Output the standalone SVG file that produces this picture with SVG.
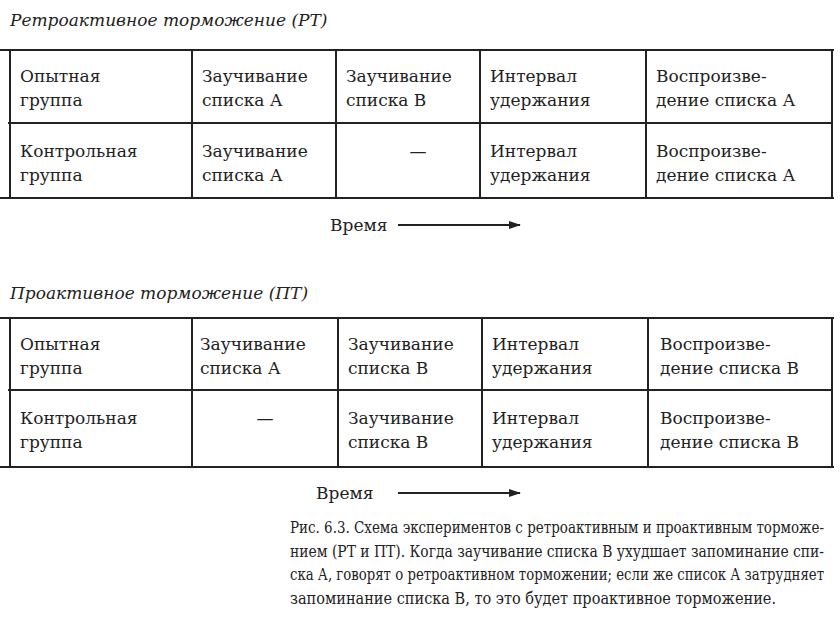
<svg xmlns="http://www.w3.org/2000/svg" width="840" height="626" viewBox="0 0 840 626">
<style>
text{font-family:"DejaVu Serif","Liberation Serif",serif;font-size:17px;fill:#222}
.t{font-style:italic}
.c{font-size:16px}
line{stroke:#222;stroke-width:2}
</style>
<defs><marker id="a" markerWidth="12" markerHeight="8" refX="11" refY="4" orient="auto" markerUnits="userSpaceOnUse"><path d="M0,0L12,4L0,8z" fill="#222"/></marker></defs>
<rect width="840" height="626" fill="#fff"/>
<text class="t" x="10" y="26">Ретроактивное торможение (РТ)</text>
<g id="table1">
<line x1="0" y1="50" x2="834" y2="50"/><line x1="8" y1="123" x2="832" y2="123"/><line x1="0" y1="198" x2="834" y2="198"/>
<line x1="10" y1="50" x2="10" y2="198"/><line x1="832" y1="50" x2="832" y2="198"/>
<line x1="192" y1="50" x2="192" y2="198"/><line x1="336" y1="50" x2="336" y2="198"/><line x1="480" y1="50" x2="480" y2="198"/><line x1="646" y1="50" x2="646" y2="198"/>
<text x="20" y="82">Опытная</text><text x="20" y="106">группа</text>
<text x="202" y="82">Заучивание</text><text x="202" y="106">списка А</text>
<text x="346" y="82">Заучивание</text><text x="346" y="106">списка В</text>
<text x="490" y="82">Интервал</text><text x="490" y="106">удержания</text>
<text x="656" y="82">Воспроизве-</text><text x="656" y="106">дение списка А</text>
<text x="20" y="157">Контрольная</text><text x="20" y="181">группа</text>
<text x="202" y="157">Заучивание</text><text x="202" y="181">списка А</text>
<text x="418" y="157" text-anchor="middle">—</text>
<text x="490" y="157">Интервал</text><text x="490" y="181">удержания</text>
<text x="656" y="157">Воспроизве-</text><text x="656" y="181">дение списка А</text>
</g>
<text x="330" y="231">Время</text>
<text class="t" x="10" y="299">Проактивное торможение (ПТ)</text>
<g id="table2">
<line x1="0" y1="318" x2="834" y2="318"/><line x1="8" y1="390" x2="832" y2="390"/><line x1="0" y1="467" x2="834" y2="467"/>
<line x1="10" y1="318" x2="10" y2="467"/><line x1="832" y1="318" x2="832" y2="467"/>
<line x1="192" y1="318" x2="192" y2="467"/><line x1="338" y1="318" x2="338" y2="467"/><line x1="482" y1="318" x2="482" y2="467"/><line x1="648" y1="318" x2="648" y2="467"/>
<text x="20" y="350">Опытная</text><text x="20" y="374">группа</text>
<text x="200" y="350">Заучивание</text><text x="200" y="374">списка А</text>
<text x="348" y="350">Заучивание</text><text x="348" y="374">списка В</text>
<text x="492" y="350">Интервал</text><text x="492" y="374">удержания</text>
<text x="660" y="350">Воспроизве-</text><text x="660" y="374">дение списка В</text>
<text x="20" y="424">Контрольная</text><text x="20" y="448">группа</text>
<text x="265" y="424" text-anchor="middle">—</text>
<text x="348" y="424">Заучивание</text><text x="348" y="448">списка В</text>
<text x="492" y="424">Интервал</text><text x="492" y="448">удержания</text>
<text x="660" y="424">Воспроизве-</text><text x="660" y="448">дение списка В</text>
</g>
<text x="316" y="499">Время</text>
<g id="connectors">
<line x1="398" y1="225" x2="520" y2="225" marker-end="url(#a)"/>
<line x1="398" y1="493" x2="520" y2="493" marker-end="url(#a)"/>
</g>
<text class="c" x="290" y="533" textLength="534" lengthAdjust="spacingAndGlyphs">Рис. 6.3. Схема экспериментов с ретроактивным и проактивным торможе-</text>
<text class="c" x="290" y="557" textLength="534" lengthAdjust="spacingAndGlyphs">нием (РТ и ПТ). Когда заучивание  списка В ухудшает запоминание спи-</text>
<text class="c" x="290" y="580" textLength="534" lengthAdjust="spacingAndGlyphs">ска А, говорят о ретроактивном торможении; если же список А затрудняет</text>
<text class="c" x="290" y="604" textLength="486" lengthAdjust="spacingAndGlyphs">запоминание списка В, то это будет проактивное торможение.</text>
</svg>
